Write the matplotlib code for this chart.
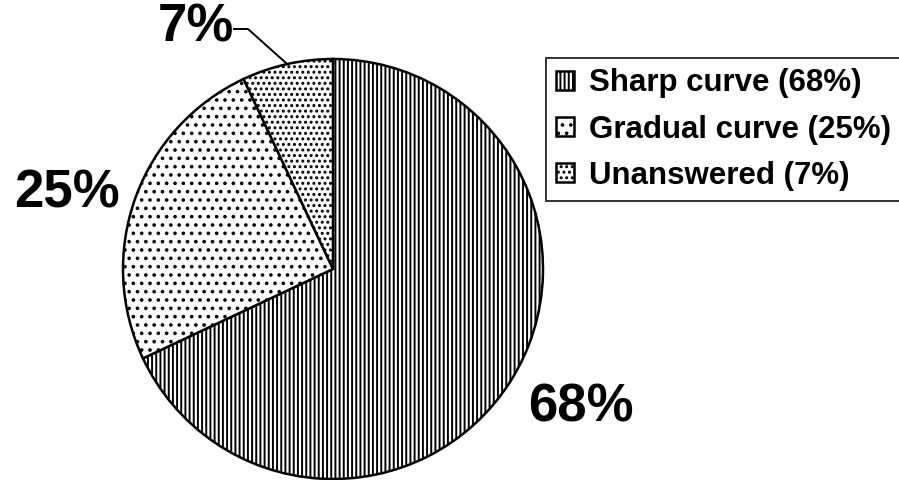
import numpy as np
import matplotlib
matplotlib.use("Agg")
import matplotlib.pyplot as plt

categories = ["Sharp curve", "Gradual curve", "Unanswered"]
values = [68, 25, 7]
pct_labels = ["68%", "25%", "7%"]
hatches = ["||||", "..", "..."]

plt.rcParams['font.family'] = ['Liberation Sans', 'DejaVu Sans']
plt.rcParams['hatch.linewidth'] = 1.4

W, H = 899, 480
fig = plt.figure(figsize=(W / 100, H / 100), dpi=100)
ax = fig.add_axes([0, 0, 1, 1])

cx, cy, R = 333, H - 269, 210
wedges, _ = ax.pie(values, startangle=90, counterclock=False, center=(cx, cy),
                   radius=R, colors=["white"] * 3,
                   wedgeprops=dict(edgecolor="black", linewidth=1.8))
for w, h in zip(wedges, hatches):
    w.set_hatch(h)

ax.set_xlim(0, W)
ax.set_ylim(0, H)
ax.set_aspect("equal")
ax.axis("off")

# percentage labels (layout positions in pixels)
label_pos = [(581, H - 407), (67, H - 193), (196, H - 28)]
for (x, y), t in zip(label_pos, pct_labels):
    ax.text(x, y, t, fontsize=38, fontweight="bold", ha="center", va="center")

# leader line for the small slice
w = wedges[2]
mid = np.deg2rad((w.theta1 + w.theta2) / 2)
ex, ey = cx + R * np.cos(mid), cy + R * np.sin(mid)
ax.plot([234, 248, ex], [H - 29, H - 29, ey], color="black", lw=1.4)

leg_labels = [f"{c} ({v}%)" for c, v in zip(categories, values)]
leg = fig.legend(wedges, leg_labels, loc="upper left",
                 bbox_to_anchor=(546 / W, 1 - 58 / H), borderaxespad=0,
                 prop=dict(weight="bold", size=22.5),
                 frameon=True, fancybox=False, edgecolor="black",
                 handlelength=0.55, handleheight=0.55, handletextpad=0.5,
                 borderpad=0.33, labelspacing=0.52)
leg.get_frame().set_linewidth(1.4)

fig.savefig("out.png", dpi=100)
